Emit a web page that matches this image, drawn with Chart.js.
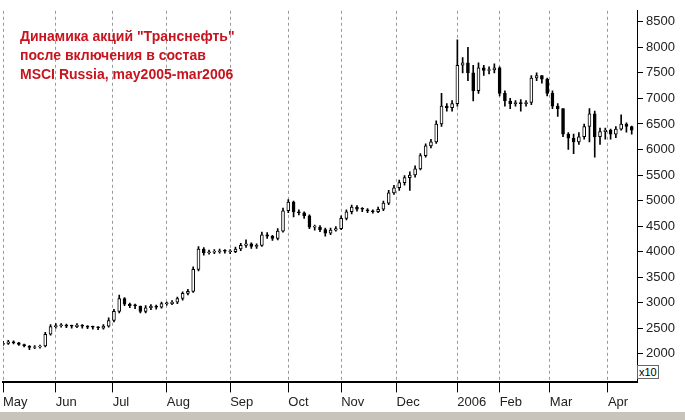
<!DOCTYPE html>
<html><head><meta charset="utf-8">
<script src="https://cdn.jsdelivr.net/npm/chart.js@4.4.0/dist/chart.umd.min.js"></script>
<style>
html,body{margin:0;padding:0;background:#fff;}
#wrap{position:relative;width:685px;height:420px;overflow:hidden;}
#title{position:absolute;left:20px;top:27px;color:#c8141e;font:bold 14px "Liberation Sans",Arial,sans-serif;line-height:19px;}
#x10{position:absolute;left:637px;top:365px;font:11px "Liberation Sans",Arial;border:1px solid #666;padding:0 1px;background:#fff;}
#bar{position:absolute;left:0;top:412px;width:685px;height:8px;background:#c8c4bc;}
</style></head><body>
<div id="wrap">
<canvas id="c" width="685" height="412" style="position:absolute;left:0;top:0;width:685px;height:412px"></canvas>
<div id="title">Динамика акций "Транснефть"<br>после включения в состав<br>MSCI Russia, may2005-mar2006</div>
<div id="x10">x10</div>
<div id="bar"></div>
</div>
<script>
// trading-day index of each candle
const days = [];
for (let i = 0; i <= 238; i += 2) days.push(i);
const closes = [2200,2230,2210,2180,2150,2120,2130,2140,2380,2530,
2550,2560,2540,2530,2560,2540,2520,2510,2500,2540,
2650,2830,3080,2970,2940,2930,2830,2900,2930,2910,
2980,2980,3010,3080,3180,3220,3650,4050,3980,3990,
4000,4010,4000,4000,4050,4120,4150,4100,4120,4330,
4300,4260,4400,4800,4970,4780,4760,4700,4480,4480,
4430,4360,4420,4450,4650,4780,4870,4830,4820,4800,
4780,4830,4950,5150,5250,5350,5450,5500,5620,5880,
6070,6150,6500,6850,6820,6900,7650,7700,7500,7150,
7600,7550,7560,7600,7100,6950,6900,6920,6900,6920,
7400,7450,7380,7100,6850,6800,6300,6220,6150,6250,
6450,6700,6250,6350,6380,6300,6400,6500,6450,6380];
const opens = [2180,2200,2230,2210,2180,2150,2120,2130,2150,2380,
2530,2550,2560,2540,2530,2560,2540,2520,2510,2500,
2540,2650,2830,3080,2970,2940,2930,2830,2900,2930,
2910,2980,2980,3010,3080,3180,3220,3650,4050,3980,
3990,4000,4010,4000,4000,4050,4120,4150,4100,4120,
4330,4300,4260,4400,4800,4970,4780,4760,4700,4480,
4480,4430,4360,4420,4450,4650,4780,4870,4830,4820,
4800,4780,4830,4950,5150,5250,5350,5450,5500,5620,
5880,6070,6150,6500,6850,6820,6900,7650,7700,7500,
7150,7600,7550,7560,7600,7100,6950,6900,6920,6900,
6920,7400,7450,7380,7100,6850,6800,6300,6220,6150,
6250,6450,6700,6250,6350,6380,6300,6400,6500,6450];
const highs = [2240,2260,2250,2220,2190,2160,2160,2170,2420,2570,
2590,2590,2580,2560,2590,2570,2550,2540,2530,2570,
2700,2870,3150,3100,2990,2970,2930,2940,2960,2950,
3010,3010,3040,3110,3210,3260,3700,4100,4080,4030,
4040,4050,4040,4040,4090,4160,4230,4170,4150,4380,
4370,4320,4450,4850,5020,4990,4820,4780,4720,4520,
4510,4460,4460,4490,4700,4820,4910,4900,4860,4840,
4820,4870,4990,5200,5300,5400,5490,5560,5680,5920,
6110,6200,6560,7100,6900,6960,8150,7800,8000,7650,
7700,7650,7620,7680,7620,7150,7000,6960,6980,6960,
7450,7500,7450,7400,7150,6900,6800,6330,6300,6330,
6500,6800,6750,6420,6420,6400,6450,6680,6520,6460];
const lows = [2160,2180,2190,2160,2130,2080,2100,2110,2130,2360,
2500,2520,2510,2500,2510,2500,2490,2480,2470,2480,
2520,2620,2800,2940,2900,2880,2800,2800,2860,2870,
2890,2950,2960,2980,3050,3150,3200,3620,3930,3950,
3960,3970,3970,3960,3980,4020,4080,4060,4060,4100,
4260,4220,4230,4380,4760,4680,4720,4650,4450,4420,
4390,4300,4330,4400,4430,4620,4740,4790,4780,4760,
4750,4760,4800,4920,5120,5200,5300,5200,5460,5600,
5850,6030,6120,6450,6750,6750,6850,7500,7350,6950,
7100,7450,7480,7500,7050,6850,6800,6850,6750,6850,
6880,7350,7300,7050,6800,6650,6250,6000,5920,6100,
6200,6150,5850,6100,6200,6200,6230,6380,6340,6300];
const monthTicks = [0,20,41.5,62,86,108,128,149,172,188,207,229];
const monthLabels = ['May','Jun','Jul','Aug','Sep','Oct','Nov','Dec','2006','Feb','Mar','Apr'];
const priceTicks = [2000,2500,3000,3500,4000,4500,5000,5500,6000,6500,7000,7500,8000,8500];

const wicks = days.map((d,i)=>({x:d,y:[lows[i],highs[i]]}));
const bodies = days.map((d,i)=>{
  let a=opens[i], b=closes[i];
  if (Math.abs(a-b)<15) b=a+15;
  return {x:d,y:[Math.min(a,b),Math.max(a,b)]};
});
const up = days.map((d,i)=>closes[i]>=opens[i]);

new Chart(document.getElementById('c'),{
  type:'bar',
  data:{datasets:[
    {data:wicks,backgroundColor:'#000',barThickness:1,grouped:false,order:2},
    {data:bodies,backgroundColor:up.map(u=>u?'#fff':'#000'),borderColor:'#000',borderWidth:1,borderSkipped:false,barThickness:3,grouped:false,order:1}
  ]},
  options:{
    responsive:false,animation:false,
    layout:{padding:{left:3,top:0,right:0,bottom:0}},
    plugins:{legend:{display:false},tooltip:{enabled:false}},
    scales:{
      x:{type:'linear',min:0,max:240,offset:false,
        afterBuildTicks:s=>{s.ticks=monthTicks.map(v=>({value:v}));},
        grid:{offset:false,color:'#999',tickColor:'#000',tickLength:10,lineWidth:1},
        border:{display:true,color:'#000',width:2,dash:[3,3]},
        ticks:{align:'start',maxRotation:0,autoSkip:false,color:'#222',padding:2,
          font:{family:'Liberation Sans',size:13},
          callback:(v,i)=>monthLabels[i]}
      },
      y:{position:'right',min:1437,max:8717,
        afterBuildTicks:s=>{s.ticks=priceTicks.map(v=>({value:v}));},
        afterFit:s=>{s.width=48;},
        grid:{drawOnChartArea:false,tickColor:'#000',tickLength:6},
        border:{display:true,color:'#000'},
        ticks:{color:'#222',padding:3,font:{family:'Liberation Sans',size:13},callback:v=>String(v)}
      }
    }
  }
});
</script></body></html>
